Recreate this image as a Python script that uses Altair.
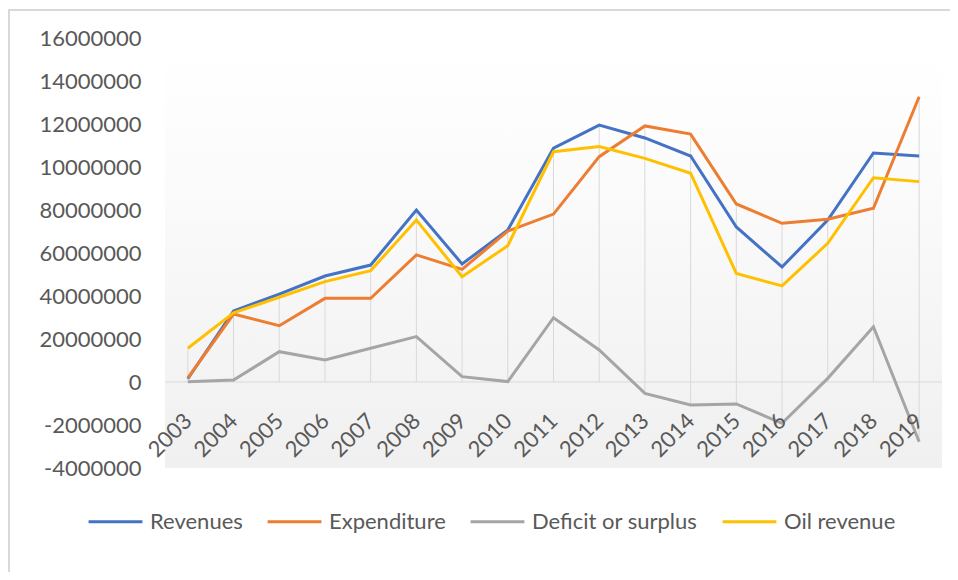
import altair as alt
import pandas as pd

years = [str(y) for y in range(2003, 2020)]
# values in millions (axis units)
revenues = [1.5, 33.0, 40.9, 49.3, 54.4, 80.0, 54.9, 70.7, 108.8, 119.5, 113.5, 105.1, 72.1, 53.5, 75.3, 106.5, 105.1]
expenditure = [1.9, 31.6, 26.2, 38.9, 38.9, 59.1, 52.4, 70.2, 78.1, 104.8, 119.1, 115.3, 82.8, 73.8, 75.7, 80.8, 132.7]
deficit = [0.1, 0.9, 14.1, 10.2, 15.7, 21.1, 2.5, 0.2, 29.9, 14.9, -5.3, -10.7, -10.2, -19.2, 1.7, 25.7, -27.8]
oil_revenue = [15.7, 32.2, 39.4, 46.7, 51.8, 75.3, 49.0, 63.4, 107.1, 109.5, 104.0, 97.1, 50.5, 44.7, 64.5, 95.0, 93.2]

series_names = ["Revenues", "Expenditure", "Deficit or surplus", "Oil revenue"]
series_colors = ["#4472C4", "#ED7D31", "#A5A5A5", "#FFC000"]

tick_values = [-40, -20, 0, 20, 40, 60, 80, 100, 120, 140, 160]
tick_labels = ["-4000000", "-2000000", "0", "20000000", "40000000", "60000000",
               "80000000", "10000000", "12000000", "14000000", "16000000"]

series_values = [revenues, expenditure, deficit, oil_revenue]
rows = []
for name, vals in zip(series_names, series_values):
    for y, v in zip(years, vals):
        rows.append({"year": y, "series": name, "value": v})
df = pd.DataFrame(rows)

drop_rows = []
for i, y in enumerate(years):
    vals = [s[i] for s in series_values]
    drop_rows.append({"year": y, "value": max(max(vals), 0), "lo": min(min(vals), 0)})
df_drop = pd.DataFrame(drop_rows)

W, H = 777, 430
FONT = "Lato"
TXT = "#595959"

label_expr = "[" + ",".join("'%s'" % t for t in tick_labels) + "][(datum.value + 40) / 20]"

xscale = alt.Scale(type="point", padding=0.5)
yscale = alt.Scale(domain=[-40, 160], nice=False, zero=False)

xaxis = alt.Axis(
    title=None, orient="bottom", offset=-56, labelAngle=-45, labelAlign="right",
    labelBaseline="middle", labelPadding=5, domain=False, ticks=False, grid=False,
    labelOverlap=False, zindex=1,
    labelFont=FONT, labelFontSize=22, labelColor=TXT)
yaxis = alt.Axis(
    title=None, values=tick_values, labelExpr=label_expr, grid=False, domain=False,
    ticks=False, labelPadding=24, labelOverlap=False, zindex=1,
    labelFont=FONT, labelFontSize=22, labelColor=TXT)

one = pd.DataFrame({"a": [0]})

border = alt.Chart(one).mark_rect(filled=False, stroke="#d9d9d9", strokeWidth=2).encode(
    x=alt.value(-156), x2=alt.value(W + 200), y=alt.value(-28), y2=alt.value(H + 200)
)

bg = alt.Chart(one).mark_rect(
    fill=alt.Gradient(
        gradient="linear",
        stops=[
            alt.GradientStop(offset=0, color="#ffffff"),
            alt.GradientStop(offset=0.2, color="#fdfdfd"),
            alt.GradientStop(offset=1, color="#f0f0f0"),
        ],
        x1=0, x2=0, y1=0, y2=1,
    )
).encode(x=alt.value(0), x2=alt.value(W), y=alt.value(0), y2=alt.value(H))

drops = alt.Chart(df_drop).mark_rule(color="#d9d9d9", strokeWidth=1).encode(
    x=alt.X("year:O", scale=xscale, axis=xaxis),
    y=alt.Y("value:Q", scale=yscale, axis=yaxis),
    y2="lo:Q",
)

zero = alt.Chart(one).mark_rule(color="#d9d9d9", strokeWidth=1).encode(
    y=alt.datum(0, scale=yscale, axis=yaxis), x=alt.value(0), x2=alt.value(W)
)

lines = alt.Chart(df).mark_line(strokeWidth=3).encode(
    x=alt.X("year:O", scale=xscale, axis=xaxis),
    y=alt.Y("value:Q", scale=yscale, axis=yaxis),
    color=alt.Color("series:N", scale=alt.Scale(domain=series_names, range=series_colors),
                    legend=alt.Legend(orient="none", legendX=-78, legendY=455,
                                      direction="horizontal", title=None,
                                      symbolType="stroke", symbolSize=2900,
                                      symbolStrokeWidth=3, labelFont=FONT,
                                      labelFontSize=22, labelColor=TXT,
                                      columnPadding=18, labelOffset=6, labelLimit=0)),
)

chart = alt.layer(border, bg, drops, zero, lines).properties(
    width=W, height=H,
    autosize=alt.AutoSizeParams(type="none"),
    padding={"left": 157, "top": 30, "right": 8, "bottom": 104},
    background="white",
).configure_view(stroke=None)

chart.save("out.html", embed_options={"renderer": "svg", "actions": False})
